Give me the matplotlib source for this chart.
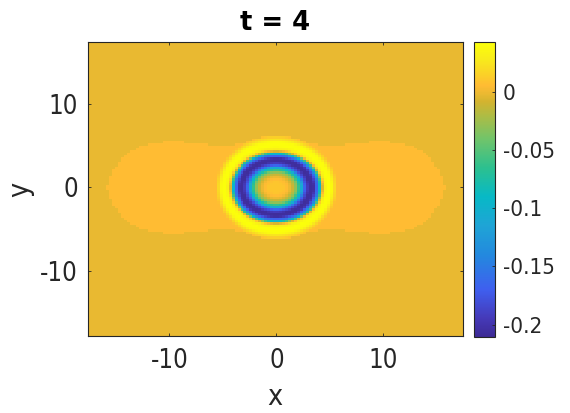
import numpy as np
import matplotlib
matplotlib.use("Agg")
import matplotlib.pyplot as plt
from matplotlib.colors import LinearSegmentedColormap

title = "t = 4"
x_ticks = [-10, 0, 10]
y_ticks = [-10, 0, 10]
x_tick_labels = ["-10", "0", "10"]
y_tick_labels = ["-10", "0", "10"]
cbar_ticks = [-0.2, -0.15, -0.1, -0.05, 0]
cbar_labels = ["-0.2", "-0.15", "-0.1", "-0.05", "0"]
vmin, vmax = -0.211, 0.043
x_limits = (-17.65, 17.45)
y_limits = (-17.85, 17.45)
half_domain = 17.85
grid_size = 128

# radial profile of the central ring along x
ring_radius = [0, 0.7, 1.1, 1.5, 1.9, 2.3, 2.7, 3.1, 3.5, 3.9, 4.1, 4.3, 4.5, 4.8, 5.15, 5.4, 5.7, 30]
ring_value = [0.011, 0.010, 0.005, -0.008, -0.035, -0.09, -0.175, -0.208, -0.205, -0.15, -0.08, -0.01, 0.03, 0.043, 0.04, 0.022, 0.007, 0.006]
ring_outer_start = 4.3
ring_outer_end = 5.7
ring_outer_end_y = 6.2

# half height of the plateau outline against |x|
lobe_x = [0, 5, 6.4, 8, 9.6, 11.1, 12.7, 13.5, 14.3, 15.2, 15.55, 15.75, 15.8]
lobe_half_height = [6.1, 4.9, 5.15, 5.4, 5.5, 5.4, 4.9, 4.35, 3.6, 2.2, 1.2, 0.5, 0]
plateau_value = 0.006
background_value = -0.002

cmap_levels = [-0.211, -0.195, -0.17, -0.14, -0.115, -0.09, -0.065, -0.04, -0.02, -0.008, -0.002, 0.006, 0.015, 0.028, 0.043]
cmap_colors = ["#3D2A94", "#4539B8", "#3F5FEF", "#2389DE", "#1FA4D6", "#07B9C6", "#2CC08F", "#71C46A", "#AEBC44", "#D3B32F",
               "#E8B931", "#FFBB33", "#FBD028", "#F8EA1C", "#FBFF0A"]

fig = plt.figure(figsize=(5.70, 4.13), dpi=100)
ax = fig.add_axes([87.5 / 570, 1 - 336 / 413, 375.5 / 570, 293.7 / 413])
cax = fig.add_axes([474.3 / 570, 1 - 337.3 / 413, 21 / 570, 295 / 413])

edges = np.linspace(-half_domain, half_domain, grid_size + 1)
centers = (edges[:-1] + edges[1:]) / 2
X, Y = np.meshgrid(centers, centers)
R = np.hypot(X, Y)
# the ring's outer flank reaches further along y than along x
sin2 = (Y / np.maximum(R, 1e-9)) ** 2
outer_span = (ring_outer_end - ring_outer_start) + sin2 * (ring_outer_end_y - ring_outer_end)
R_eff = np.where(R > ring_outer_start,
                 ring_outer_start + (R - ring_outer_start) * (ring_outer_end - ring_outer_start) / outer_span,
                 R)
Z = np.where(np.abs(Y) < np.interp(np.abs(X), lobe_x, lobe_half_height), plateau_value, background_value)
Z = np.where(R_eff < ring_outer_end, np.interp(R_eff, ring_radius, ring_value), Z)

norm_pos = (np.array(cmap_levels) - vmin) / (vmax - vmin)
cmap = LinearSegmentedColormap.from_list("ref", list(zip(norm_pos, cmap_colors)), N=512)
mesh = ax.pcolormesh(edges, edges, Z, cmap=cmap, vmin=vmin, vmax=vmax, shading="flat", rasterized=True)

dark = "#262626"
text_font = dict(family="DejaVu Sans", stretch="condensed")
ax.set_xlim(*x_limits)
ax.set_ylim(*y_limits)
ax.set_xticks(x_ticks)
ax.set_yticks(y_ticks)
ax.set_xticklabels(x_tick_labels, fontsize=18.5, color=dark, **text_font)
ax.set_yticklabels(y_tick_labels, fontsize=18.5, color=dark, **text_font)
ax.tick_params(direction="in", length=2.5, width=0.6, color=dark, top=True, right=True)
ax.tick_params(axis="x", pad=9)
ax.tick_params(axis="y", pad=7)
ax.set_xlabel("x", fontsize=20.5, color=dark, labelpad=6, **text_font)
ax.set_ylabel("y", fontsize=20.5, color=dark, labelpad=4, **text_font)
ax.set_title(title, fontsize=18.6, fontweight="bold", color="black", family="DejaVu Sans", pad=8.5)

cb = fig.colorbar(mesh, cax=cax)
cb.set_ticks(cbar_ticks)
cb.set_ticklabels(cbar_labels, fontsize=16, color=dark, **text_font)
cb.ax.tick_params(direction="in", length=2, width=0.6, color=dark, pad=5.5)

for a in (ax, cax):
    for s in a.spines.values():
        s.set_linewidth(0.8)
        s.set_color(dark)

fig.savefig("out.png", dpi=100)
